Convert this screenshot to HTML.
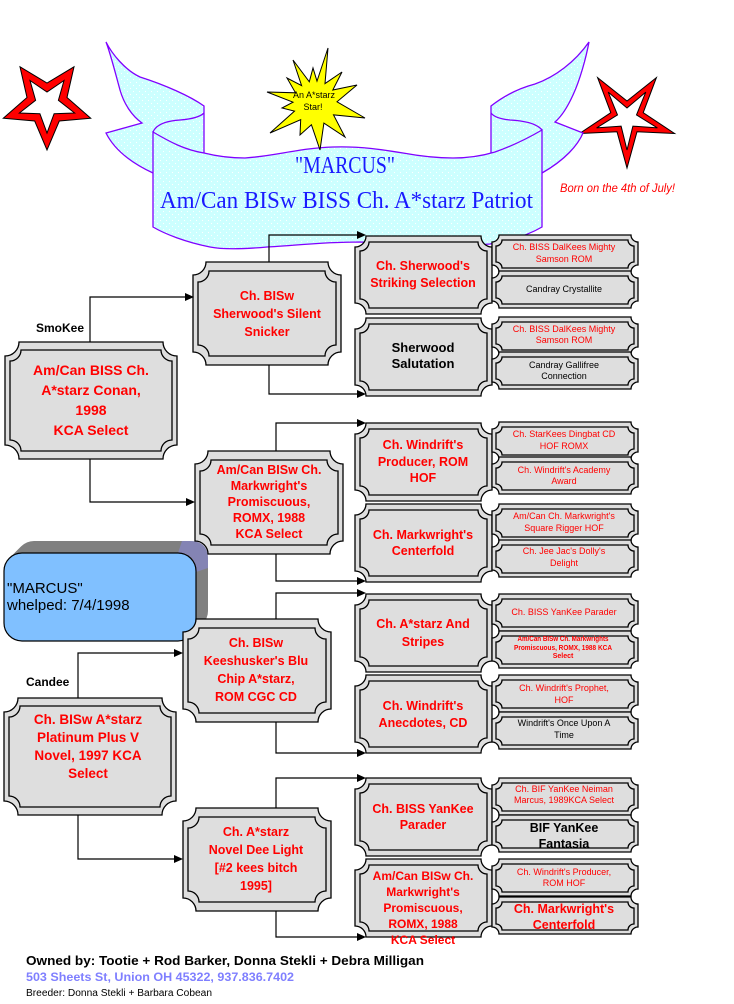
<!DOCTYPE html>
<html><head><meta charset="utf-8"><style>
html,body{margin:0;padding:0;background:#fff;}
svg{display:block}
text{font-family:"Liberation Sans",Arial,sans-serif;}
.g1{font-weight:bold;fill:#f00;font-size:14px;text-anchor:middle}
.g2{font-weight:bold;fill:#f00;font-size:12.5px;text-anchor:middle}
.g2k{font-weight:bold;fill:#000;font-size:13px;text-anchor:middle}
.g4{fill:#f00;font-size:9px;text-anchor:middle}
.g4k{fill:#000;font-size:9px;text-anchor:middle}
.tiny{fill:#f00;font-size:7px;font-weight:bold;text-anchor:middle}
</style></head><body>
<svg width="734" height="1004" viewBox="0 0 734 1004" xmlns="http://www.w3.org/2000/svg">
<defs>
<pattern id="dots" width="6" height="6" patternUnits="userSpaceOnUse">
<rect width="6" height="6" fill="#ccffff"/>
<circle cx="1.5" cy="1.5" r="0.6" fill="#fff"/>
<circle cx="4.5" cy="4.5" r="0.6" fill="#fff"/>
</pattern>
<g id="b1">
<path d="M14,0 H158 A14,14 0 0 0 172,14 V103 A14,14 0 0 0 158,117 H14 A14,14 0 0 0 0,103 V14 A14,14 0 0 0 14,0 Z" fill="#dedede" stroke="#000" stroke-width="1.3"/>
<path d="M16,8 H156 A11,11 0 0 0 167,19 V98 A11,11 0 0 0 156,109 H16 A11,11 0 0 0 5,98 V19 A11,11 0 0 0 16,8 Z" fill="none" stroke="#000" stroke-width="1.3"/>
</g>
<g id="b2">
<path d="M13,0 H135 A13,13 0 0 0 148,13 V90 A13,13 0 0 0 135,103 H13 A13,13 0 0 0 0,90 V13 A13,13 0 0 0 13,0 Z" fill="#dedede" stroke="#000" stroke-width="1.3"/>
<path d="M16,9 H132 A11,11 0 0 0 143,20 V83 A11,11 0 0 0 132,94 H16 A11,11 0 0 0 5,83 V20 A11,11 0 0 0 16,9 Z" fill="none" stroke="#000" stroke-width="1.3"/>
</g>
<g id="b3">
<path d="M11,0 H126 A11,11 0 0 0 137,11 V67 A11,11 0 0 0 126,78 H11 A11,11 0 0 0 0,67 V11 A11,11 0 0 0 11,0 Z" fill="#dedede" stroke="#000" stroke-width="1.3"/>
<path d="M14,6 H123 A9,9 0 0 0 132,15 V63 A9,9 0 0 0 123,72 H14 A9,9 0 0 0 5,63 V15 A9,9 0 0 0 14,6 Z" fill="none" stroke="#000" stroke-width="1.3"/>
</g>
<g id="b4">
<path d="M7,0 H139 A7,7 0 0 0 146,7 V30 A7,7 0 0 0 139,37 H7 A7,7 0 0 0 0,30 V7 A7,7 0 0 0 7,0 Z" fill="#dedede" stroke="#000" stroke-width="1.3"/>
<path d="M10,5 H136 A6,6 0 0 0 142,11 V27 A6,6 0 0 0 136,33 H10 A6,6 0 0 0 4,27 V11 A6,6 0 0 0 10,5 Z" fill="none" stroke="#000" stroke-width="1.3"/>
</g>
</defs>

<!-- Stars -->
<polygon points="90.7,118.2 59.3,121 47,150 34.7,121 3.3,118.2 27,97.5 20,66.8 47,83 74,66.8 67,97.5" fill="#ff0000" stroke="#000" stroke-width="1"/>
<polygon points="74.6,113 54.1,113.7 47,133 39.9,113.7 19.4,113 35.6,100.3 30,80.5 47,92 64,80.5 58.4,100.3" fill="#fff" stroke="#000" stroke-width="1"/>
<polygon points="674.6,133.5 637,131.8 627,168 617,131.8 579.5,133.5 610.8,112.7 597.6,77.6 627,101 656.4,77.6 643.2,112.7" fill="#ff0000" stroke="#000" stroke-width="1"/>
<polygon points="657.4,127.9 632.9,126.1 627,150 621.1,126.1 596.6,127.9 617.5,114.9 608.2,92.1 627,108 645.8,92.1 636.5,114.9" fill="#fff" stroke="#000" stroke-width="1"/>

<!-- Ribbon -->
<path d="M106,42 C110,52 114,68 120,90 C124,104 132,116 142,123 L106,133 C112,145 125,160 153,173 L204,165 L204,106 C190,96 165,85 140,77 C125,70 112,54 106,42 Z" fill="url(#dots)" stroke="#8000ff" stroke-width="1.3"/>
<path d="M589,42 C586,58 580,80 573,95 C568,106 562,116 555,122 L583,133 C578,145 565,160 542,173 L491,165 L491,106 C505,95 520,88 535,84 C555,77 575,62 589,42 Z" fill="url(#dots)" stroke="#8000ff" stroke-width="1.3"/>
<path d="M153,132 C170,142 185,150 204,153 C220,157 232,158 245,158 C275,156 300,148 333,147 C360,146 385,150 403,153 C425,157 440,158 453,158 C470,158 485,155 495,152 C515,145 530,137 542,130 L542,227 C530,234 515,240 490,244 C460,247 420,244 360,242 C320,242 290,246 267,247 C245,249 225,250 210,247 C185,242 165,234 153,227 Z" fill="url(#dots)" stroke="#8000ff" stroke-width="1.3"/>
<path d="M153,132 C156,125 165,121 180,120 C192,119 200,117 204,113" fill="none" stroke="#8000ff" stroke-width="1.3"/>
<path d="M542,130 C538,125 528,121 510,120 C500,119 494,117 491,113" fill="none" stroke="#8000ff" stroke-width="1.3"/>

<text x="345" y="173" font-family="Liberation Serif, serif" font-size="24" fill="#1a1aff" textLength="100" lengthAdjust="spacingAndGlyphs" text-anchor="middle" style="font-family:'Liberation Serif',serif">"MARCUS"</text>
<text x="160" y="208" font-size="24" fill="#1a1aff" textLength="373" lengthAdjust="spacingAndGlyphs" style="font-family:'Liberation Serif',serif">Am/Can BISw BISS Ch. A*starz Patriot</text>

<text x="560" y="192" font-size="11.5" fill="#f00" font-style="italic" textLength="115" lengthAdjust="spacingAndGlyphs">Born on the 4th of July!</text>

<!-- Star burst -->
<polygon points="328,48 325,83.6 342,72 332.8,90 357,85 337,101.8 365,118 333.5,114.9 345,137 323.9,123.1 320,150 311.4,124.7 300,135 300.7,119.7 270,133 294.5,111.1 282,108 293,102.2 267,92 295.5,92.8 287,78 301.6,85.6 293,60 309.3,81.8 313,68 317,81.1" fill="#ffff00" stroke="#000" stroke-width="1"/>
<text x="314" y="98" font-size="9" fill="#000" text-anchor="middle">An A*starz</text>
<text x="313" y="110" font-size="9" fill="#000" text-anchor="middle">Star!</text>

<!-- Connector lines -->
<g fill="none" stroke="#000" stroke-width="1.2">
<path d="M90,342 V297 H186"/>
<path d="M90,459 V502 H187"/>
<path d="M78,698 V653 H175"/>
<path d="M78,815 V859 H175"/>
<path d="M269,262 V235 H358"/>
<path d="M269,365 V394 H358"/>
<path d="M276,451 V423 H358"/>
<path d="M276,554 V581 H358"/>
<path d="M276,619 V593 H358"/>
<path d="M276,722 V753 H358"/>
<path d="M276,808 V778 H358"/>
<path d="M276,911 V937 H358"/>
</g>

<!-- Blue box -->
<g fill="#808080">
<rect x="5" y="552" width="192" height="88" rx="18"/>
<rect x="6" y="551" width="192" height="88" rx="18"/>
<rect x="7" y="550" width="192" height="88" rx="18"/>
<rect x="8" y="549" width="192" height="88" rx="18"/>
<rect x="9" y="548" width="192" height="88" rx="18"/>
<rect x="10" y="547" width="192" height="88" rx="18"/>
<rect x="11" y="546" width="192" height="88" rx="18"/>
<rect x="12" y="545" width="192" height="88" rx="18"/>
<rect x="13" y="544" width="192" height="88" rx="18"/>
<rect x="14" y="543" width="192" height="88" rx="18"/>
<rect x="15" y="542" width="192" height="88" rx="18"/>
<rect x="16" y="541" width="192" height="88" rx="18"/>
</g>
<path d="M182,541 H190 Q208,541 208,559 V568 L196,572 Q196,553 178,553 Z" fill="#8484b4"/>
<rect x="4" y="553" width="192" height="88" rx="18" fill="#80c0ff" stroke="#000" stroke-width="1.2"/>
<text x="7" y="593" font-size="15" fill="#000">"MARCUS"</text>
<text x="7" y="610" font-size="15" fill="#000">whelped: 7/4/1998</text>

<!-- Boxes -->
<use href="#b1" x="5" y="342"/>
<use href="#b1" x="4" y="698"/>
<use href="#b2" x="193" y="262"/>
<use href="#b2" x="195" y="451"/>
<use href="#b2" x="183" y="619"/>
<use href="#b2" x="183" y="808"/>
<use href="#b3" x="355" y="236"/>
<use href="#b3" x="355" y="318"/>
<use href="#b3" x="355" y="423"/>
<use href="#b3" x="355" y="504"/>
<use href="#b3" x="355" y="594"/>
<use href="#b3" x="355" y="675"/>
<use href="#b3" x="355" y="778"/>
<use href="#b3" x="355" y="859"/>
<use href="#b4" x="492" y="235"/>
<use href="#b4" x="492" y="271"/>
<use href="#b4" x="492" y="317"/>
<use href="#b4" x="492" y="352"/>
<use href="#b4" x="492" y="422"/>
<use href="#b4" x="492" y="457"/>
<use href="#b4" x="492" y="504"/>
<use href="#b4" x="492" y="540"/>
<use href="#b4" x="492" y="594"/>
<use href="#b4" x="492" y="631"/>
<use href="#b4" x="492" y="675"/>
<use href="#b4" x="492" y="712"/>
<use href="#b4" x="492" y="778"/>
<use href="#b4" x="492" y="815"/>
<use href="#b4" x="492" y="859"/>
<use href="#b4" x="492" y="897"/>

<!-- Arrowheads -->
<g fill="#000">
<polygon points="185,293 194,297 185,301"/>
<polygon points="186,498 195,502 186,506"/>
<polygon points="174,649 183,653 174,657"/>
<polygon points="174,855 183,859 174,863"/>
<polygon points="357,231 366,235 357,239"/>
<polygon points="357,390 366,394 357,398"/>
<polygon points="357,419 366,423 357,427"/>
<polygon points="357,577 366,581 357,585"/>
<polygon points="357,589 366,593 357,597"/>
<polygon points="357,749 366,753 357,757"/>
<polygon points="357,774 366,778 357,782"/>
<polygon points="357,933 366,937 357,941"/>
</g>

<!-- Labels -->
<text x="36" y="332" font-size="12" font-weight="bold" fill="#000">SmoKee</text>
<text x="26" y="686" font-size="12" font-weight="bold" fill="#000">Candee</text>

<!-- Gen1 text -->
<text class="g1" x="91" y="375">Am/Can BISS Ch.</text>
<text class="g1" x="91" y="395">A*starz Conan,</text>
<text class="g1" x="91" y="415">1998</text>
<text class="g1" x="91" y="435">KCA Select</text>

<text class="g1" x="88" y="724" style="font-size:13.5px">Ch. BISw A*starz</text>
<text class="g1" x="88" y="742" style="font-size:13.5px">Platinum Plus V</text>
<text class="g1" x="88" y="760" style="font-size:13.5px">Novel, 1997 KCA</text>
<text class="g1" x="88" y="778" style="font-size:13.5px">Select</text>

<!-- Gen2 text -->
<text class="g2" x="267" y="300">Ch. BISw</text>
<text class="g2" x="267" y="318">Sherwood's Silent</text>
<text class="g2" x="267" y="336">Snicker</text>

<text class="g2" x="269" y="474">Am/Can BISw Ch.</text>
<text class="g2" x="269" y="490">Markwright's</text>
<text class="g2" x="269" y="506">Promiscuous,</text>
<text class="g2" x="269" y="522">ROMX, 1988</text>
<text class="g2" x="269" y="538">KCA Select</text>

<text class="g2" x="256" y="647">Ch. BISw</text>
<text class="g2" x="256" y="665">Keeshusker's Blu</text>
<text class="g2" x="256" y="683">Chip A*starz,</text>
<text class="g2" x="256" y="701">ROM CGC CD</text>

<text class="g2" x="256" y="836">Ch. A*starz</text>
<text class="g2" x="256" y="854">Novel Dee Light</text>
<text class="g2" x="256" y="872">[#2 kees bitch</text>
<text class="g2" x="256" y="890">1995]</text>

<!-- Gen3 text -->
<text class="g2" x="423" y="270">Ch. Sherwood's</text>
<text class="g2" x="423" y="287">Striking Selection</text>
<text class="g2k" x="423" y="352">Sherwood</text>
<text class="g2k" x="423" y="368">Salutation</text>
<text class="g2" x="423" y="449">Ch. Windrift's</text>
<text class="g2" x="423" y="466">Producer, ROM</text>
<text class="g2" x="423" y="482">HOF</text>
<text class="g2" x="423" y="539">Ch. Markwright's</text>
<text class="g2" x="423" y="555">Centerfold</text>
<text class="g2" x="423" y="628">Ch. A*starz And</text>
<text class="g2" x="423" y="646">Stripes</text>
<text class="g2" x="423" y="710">Ch. Windrift's</text>
<text class="g2" x="423" y="727">Anecdotes, CD</text>
<text class="g2" x="423" y="813">Ch. BISS YanKee</text>
<text class="g2" x="423" y="829">Parader</text>
<text class="g2" x="423" y="880" style="font-size:12px">Am/Can BISw Ch.</text>
<text class="g2" x="423" y="896" style="font-size:12px">Markwright's</text>
<text class="g2" x="423" y="912" style="font-size:12px">Promiscuous,</text>
<text class="g2" x="423" y="928" style="font-size:12px">ROMX, 1988</text>
<text class="g2" x="423" y="944" style="font-size:12px">KCA Select</text>

<!-- Gen4 text -->
<text class="g4" x="564" y="250">Ch. BISS DalKees Mighty</text>
<text class="g4" x="564" y="262">Samson ROM</text>
<text class="g4k" x="564" y="292">Candray Crystallite</text>
<text class="g4" x="564" y="332">Ch. BISS DalKees Mighty</text>
<text class="g4" x="564" y="343">Samson ROM</text>
<text class="g4k" x="564" y="368">Candray Gallifree</text>
<text class="g4k" x="564" y="379">Connection</text>

<text class="g4" x="564" y="437">Ch. StarKees Dingbat CD</text>
<text class="g4" x="564" y="449">HOF ROMX</text>
<text class="g4" x="564" y="473">Ch. Windrift's Academy</text>
<text class="g4" x="564" y="484">Award</text>
<text class="g4" x="564" y="519">Am/Can Ch. Markwright's</text>
<text class="g4" x="564" y="531">Square Rigger HOF</text>
<text class="g4" x="564" y="554">Ch. Jee Jac's Dolly's</text>
<text class="g4" x="564" y="566">Delight</text>

<text class="g4" x="564" y="615">Ch. BISS YanKee Parader</text>
<text class="tiny" x="563" y="641" textLength="91" lengthAdjust="spacingAndGlyphs">Am/Can BISw Ch. Markwrights</text>
<text class="tiny" x="563" y="650" textLength="98" lengthAdjust="spacingAndGlyphs">Promiscuous, ROMX, 1988 KCA</text>
<text class="tiny" x="563" y="658">Select</text>
<text class="g4" x="564" y="691">Ch. Windrift's Prophet,</text>
<text class="g4" x="564" y="703">HOF</text>
<text class="g4k" x="564" y="726">Windrift's Once Upon A</text>
<text class="g4k" x="564" y="738">Time</text>

<text class="g4" x="564" y="792">Ch. BIF YanKee Neiman</text>
<text class="g4" x="564" y="803">Marcus, 1989KCA Select</text>
<text class="g2k" x="564" y="832" style="font-size:12.5px">BIF YanKee</text>
<text class="g2k" x="564" y="848" style="font-size:12.5px">Fantasia</text>
<text class="g4" x="564" y="875">Ch. Windrift's Producer,</text>
<text class="g4" x="564" y="886">ROM HOF</text>
<text class="g2" x="564" y="913">Ch. Markwright's</text>
<text class="g2" x="564" y="929">Centerfold</text>

<!-- Footer -->
<text x="26" y="965" font-size="13" font-weight="bold" fill="#000" textLength="398" lengthAdjust="spacingAndGlyphs">Owned by: Tootie + Rod Barker, Donna Stekli + Debra Milligan</text>
<text x="26" y="981" font-size="12" font-weight="bold" fill="#7f7fff" textLength="268" lengthAdjust="spacingAndGlyphs">503 Sheets St, Union OH 45322, 937.836.7402</text>
<text x="26" y="996" font-size="10" fill="#000" textLength="186" lengthAdjust="spacingAndGlyphs">Breeder: Donna Stekli + Barbara Cobean</text>
</svg>
</body></html>
